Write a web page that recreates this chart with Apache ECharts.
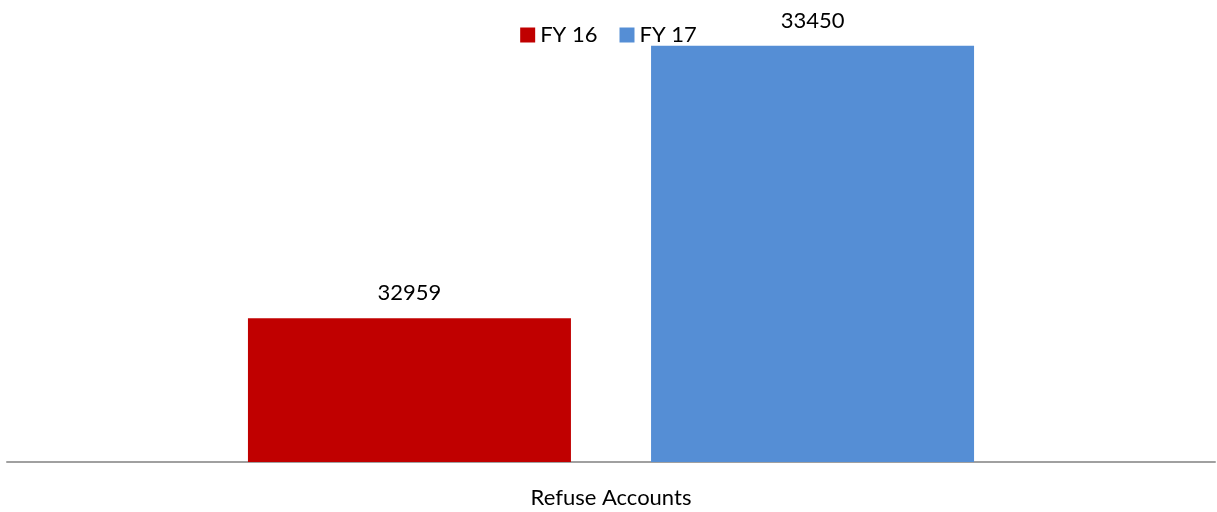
<!DOCTYPE html>
<html><head><meta charset="utf-8">
<script src="https://cdn.jsdelivr.net/npm/echarts@6/dist/echarts.min.js"></script>
<style>html,body{margin:0;padding:0;background:#fff}#c{width:1217px;height:512px}</style>
</head><body><div id="c"></div>
<script>
const categories = ['Refuse Accounts'];
const seriesNames = ['FY 16', 'FY 17'];
const fy16 = [32959];
const fy17 = [33450];
const colors = ['#C00000', '#558ED5'];
const font = 'Lato, "Open Sans", sans-serif';

const chart = echarts.init(document.getElementById('c'), null, {renderer: 'canvas'});
const mk = (name, data, color) => ({
  name, type: 'bar', data, barWidth: 323, barGap: '24.8%',
  itemStyle: {color},
  label: {show: true, position: 'top', distance: 14, color: '#000', fontSize: 22, fontFamily: font}
});
chart.setOption({
  animation: false,
  legend: {
    data: seriesNames, left: 'center', top: 19, itemWidth: 15, itemHeight: 15, itemGap: 22,
    icon: 'rect', textStyle: {fontSize: 22, fontFamily: font, color: '#000', padding: [0,0,0,0]}
  },
  grid: {left: 7, right: 2, top: 18, bottom: 50, containLabel: false},
  xAxis: {
    type: 'category', data: categories,
    axisLine: {lineStyle: {color: '#a0a0a0', width: 2}},
    axisTick: {show: false},
    axisLabel: {color: '#000', fontSize: 22, fontFamily: font, margin: 25}
  },
  yAxis: {type: 'value', min: 32700, max: 33500, show: false, splitLine: {show: false}},
  series: [mk(seriesNames[0], fy16, colors[0]), mk(seriesNames[1], fy17, colors[1])]
});
</script></body></html>
